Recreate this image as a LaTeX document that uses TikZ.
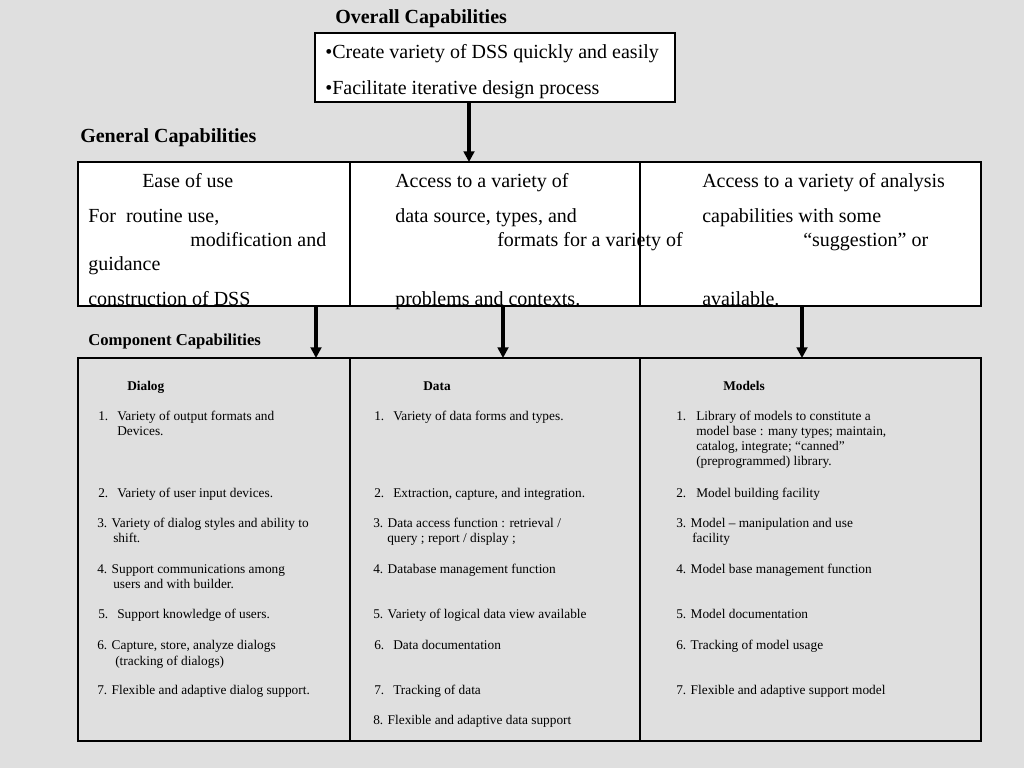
\documentclass[tikz,border=0pt]{standalone}
\usepackage{fontspec}
\setmainfont{Liberation Serif}
\usetikzlibrary{arrows.meta,positioning}
\definecolor{marble}{HTML}{DFDFDF}

\begin{document}
\begin{tikzpicture}[x=0.75pt,y=-0.75pt,
  big/.style={anchor=base west,inner sep=0pt,font=\fontsize{15}{18}\selectfont},
  head/.style={anchor=base west,inner sep=0pt,font=\fontsize{15}{18}\selectfont\bfseries},
  item/.style={anchor=base west,inner sep=0pt,font=\fontsize{10}{12}\selectfont},
  itemhead/.style={item,font=\fontsize{10}{12}\selectfont\bfseries},
  cell/.style={draw,line width=1.1pt,outer sep=0pt,inner sep=0pt,fill=white,minimum height=108pt},
  part/.style={draw,line width=1.1pt,outer sep=0pt,inner sep=0pt,minimum height=287.25pt},
  arr/.style={-{Triangle[length=8pt,width=8pt]},line width=2.6pt},
]
\fill[marble] (0,0) rectangle (1024,768);
\useasboundingbox (0,0) rectangle (1024,768);
\node[draw,fill=white,line width=1.1pt,outer sep=0pt,inner sep=0pt,minimum width=270pt,minimum height=51.75pt,anchor=north west] (overall) at (315,33) {};
\node[cell,minimum width=204pt,anchor=north west] (gen1) at (78,162) {};
\node[cell,minimum width=217.5pt,right=0pt of gen1] (gen2) {};
\node[cell,minimum width=255.75pt,right=0pt of gen2] (gen3) {};
\node[part,minimum width=204pt,anchor=north west] (comp1) at (78,358) {};
\node[part,minimum width=217.5pt,right=0pt of comp1] (comp2) {};
\node[part,minimum width=255.75pt,right=0pt of comp2] (comp3) {};
\node[head] (ovtitle) at (335,23) {Overall Capabilities};
\node[big] (ov1) at (325,58) {•Create variety of DSS quickly and easily};
\node[big] (ov2) at (325,94) {•Facilitate iterative design process};
\node[head] (gentitle) at (80,142) {General Capabilities};
\node[head,font=\fontsize{12.5}{15}\selectfont\bfseries] (comptitle) at (88,345) {Component Capabilities};
\foreach \x/\y/\t [count=\i] in {142/187/Ease of use, 88/222/{For\ \ routine use,}, 190/246/modification and,
  88/270/guidance, 88/305/construction of DSS, 395/187/Access to a variety of, 395/222/{data source, types, and},
  497/246/formats for a variety of, 395/305/problems and contexts., 702/187/Access to a variety of analysis,
  702/222/capabilities with some, 803/246/“suggestion” or, 702/305/available.}
  \node[big] (gtx\i) at (\x,\y) {\t};
\node[itemhead] (dlghead) at (127,390) {Dialog};
\node[itemhead] (dathead) at (423,390) {Data};
\node[itemhead] (modhead) at (723,390) {Models};
\foreach \x/\y/\t [count=\i] in {98/420/1., 117/420/Variety of output formats and, 117/435/Devices.,
  98/497/2., 117/497/Variety of user input devices., 97/527/3. Variety of dialog styles and ability to,
  113/542/shift., 97/573/4. Support communications among, 113/588/users and with builder.,
  98/618/5., 117/618/Support knowledge of users., 97/649/{6. Capture, store, analyze dialogs},
  115/665/{(tracking of dialogs)}, 97/694/7. Flexible and adaptive dialog support.}
  \node[item] (dlg\i) at (\x,\y) {\t};
\foreach \x/\y/\t [count=\i] in {374/420/1., 393/420/Variety of data forms and types., 374/497/2.,
  393/497/{Extraction, capture, and integration.}, 373/527/{3. Data access function : retrieval /},
  387/542/{query ; report / display ;}, 373/573/4. Database management function,
  373/618/5. Variety of logical data view available, 374/649/6., 393/649/Data documentation,
  374/694/7., 393/694/Tracking of data, 373/724/8. Flexible and adaptive data support}
  \node[item] (dat\i) at (\x,\y) {\t};
\foreach \x/\y/\t [count=\i] in {676/420/1., 696/420/Library of models to constitute a,
  696/435/{model base : many types; maintain,}, 696/450/{catalog, integrate; “canned”},
  696/465/{(preprogrammed) library.}, 676/497/2., 696/497/Model building facility,
  676/527/3. Model -- manipulation and use, 692/542/facility, 676/573/4. Model base management function,
  676/618/5. Model documentation, 676/649/6. Tracking of model usage, 676/694/7. Flexible and adaptive support model}
  \node[item] (mod\i) at (\x,\y) {\t};
\draw[arr] (overall.south -| 469,0) -- (gen2.north -| 469,0);
\foreach \x in {316,503,802} \draw[arr] (gen1.south -| \x,0) -- (comp1.north -| \x,0);
\end{tikzpicture}
\end{document}
